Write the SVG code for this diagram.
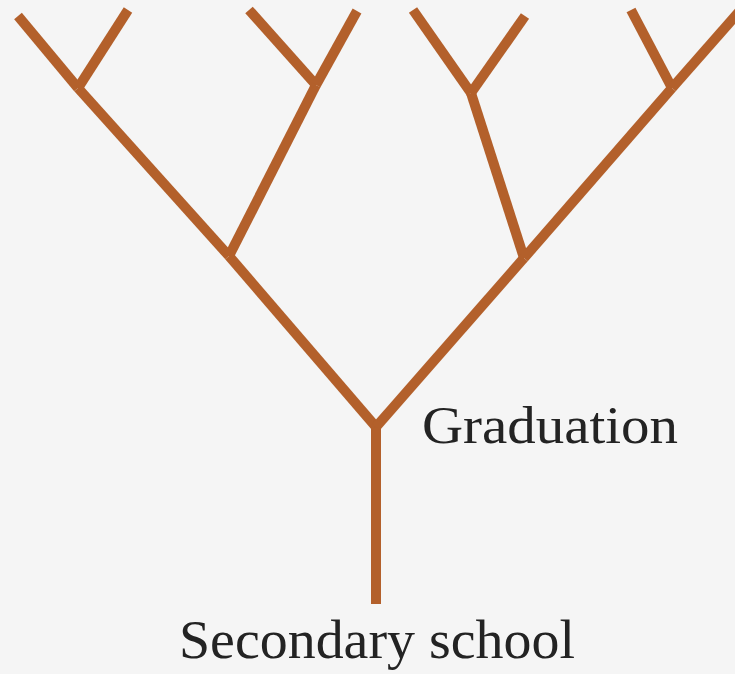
<svg xmlns="http://www.w3.org/2000/svg" width="735" height="674" viewBox="0 0 735 674">
<style>
.br{stroke:#b3602b;stroke-width:10;stroke-linecap:butt;fill:none}
.lbl{font-family:"Liberation Serif","Times New Roman",serif;fill:#232323}
</style>
<rect width="735" height="674" fill="#f5f5f5"/>
<g id="connectors" class="br">
<line x1="376" y1="604" x2="376" y2="427"/>
<line x1="376" y1="427" x2="229" y2="256"/>
<line x1="376" y1="427" x2="524" y2="258"/>
<line x1="229" y1="256" x2="78" y2="88"/>
<line x1="229" y1="256" x2="316" y2="85"/>
<line x1="78" y1="88" x2="18" y2="16"/>
<line x1="78" y1="88" x2="128" y2="10"/>
<line x1="316" y1="85" x2="249" y2="10"/>
<line x1="316" y1="85" x2="357" y2="11"/>
<line x1="524" y1="258" x2="471" y2="93"/>
<line x1="524" y1="258" x2="672" y2="88"/>
<line x1="471" y1="93" x2="413" y2="10"/>
<line x1="471" y1="93" x2="525" y2="16"/>
<line x1="672" y1="88" x2="631" y2="10"/>
<line x1="672" y1="88" x2="745" y2="5"/>
</g>
<g id="graduation"><text class="lbl" x="422" y="443" font-size="52" textLength="256" lengthAdjust="spacingAndGlyphs">Graduation</text></g>
<g id="secondary"><text class="lbl" x="179" y="658" font-size="54" textLength="396" lengthAdjust="spacingAndGlyphs">Secondary school</text></g>
</svg>
